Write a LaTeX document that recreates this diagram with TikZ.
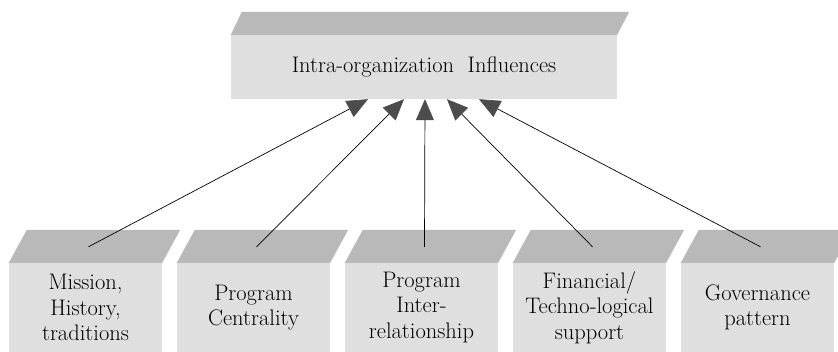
\documentclass[tikz,border=0pt]{standalone}
\usepackage{fontspec}
\usetikzlibrary{arrows.meta,positioning,calc}

\colorlet{frontgray}{gray!25}
\colorlet{topgray}{gray!55}
\colorlet{tipgray}{black!70}

\begin{document}
\begin{tikzpicture}[x=1pt,y=1pt,node distance=168pt,
  box/.style={fill=frontgray,text=black,minimum width=153pt,minimum height=89pt,inner sep=0pt,align=center,font=\fontsize{22.5}{25.5}\selectfont},
  infl/.style={-{Triangle[length=21pt,width=18pt,color=tipgray]},line width=0.7pt}]
\useasboundingbox (0,0) rectangle (838,352);
\node (i) [box,minimum width=386pt,minimum height=64pt] at (424,285) {Intra-organization\ \ Influences};
\fill[topgray] (i.north west) -- ++(11,23) -- ($(i.north east)+(12,23)$) -- (i.north east) -- cycle;

\node (m) [box] at (85.5,44.5) {Mission,\\History,\\traditions};
\node (c) [box,right of=m] {Program\\Centrality};
\node (r) [box,right of=c] {Program\\Inter-\\relationship};
\node (f) [box,right of=r] {Financial/\\Techno-logical\\support};
\node (g) [box,right of=f] {Governance\\pattern};

\foreach \n in {m,c,r,f,g}
  \fill[topgray] (\n.north west) -- ++(18,33) -- ($(\n.north east)+(18,33)$) -- (\n.north east) -- cycle;

% arrows start on the top faces and end under the top box
\foreach \n in {m,c,r,f,g}
  \coordinate (\n0) at ($(\n.north)+(3,16)$);
\coordinate (i1) at ($(i.south)+(-56,0)$);
\coordinate (i2) at ($(i.south)+(-20,0)$);
\coordinate (i3) at ($(i.south)+(1,0)$);
\coordinate (i4) at ($(i.south)+(23,0)$);
\coordinate (i5) at ($(i.south)+(55,0)$);

\path
(m0) edge [infl] (i1)
(c0) edge [infl] (i2)
(r0) edge [infl] (i3)
(f0) edge [infl] (i4)
(g0) edge [infl] (i5);
\end{tikzpicture}
\end{document}
